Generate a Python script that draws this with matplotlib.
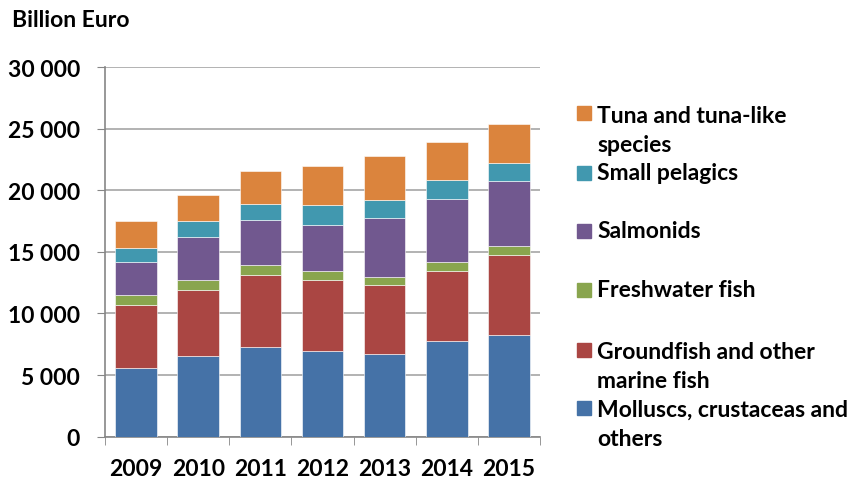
import matplotlib
matplotlib.use("Agg")
import matplotlib.pyplot as plt
from matplotlib.ticker import FuncFormatter, FixedLocator
from matplotlib.patches import Rectangle
import numpy as np

plt.rcParams["font.family"] = ["Lato", "DejaVu Sans"]
plt.rcParams["font.weight"] = "bold"

anos = ["2009", "2010", "2011", "2012", "2013", "2014", "2015"]

molluscs = [5580, 6550, 7300, 6930, 6740, 7740, 8280]
groundfish = [5090, 5380, 5820, 5810, 5550, 5730, 6490]
freshwater = [810, 810, 810, 730, 650, 710, 710]
salmonids = [2700, 3470, 3630, 3730, 4840, 5140, 5300]
small_pelagics = [1110, 1270, 1350, 1620, 1440, 1520, 1460]
tuna = [2190, 2160, 2650, 3170, 3550, 3110, 3170]

series = [
    ("Molluscs, crustaceas and\nothers", molluscs, "#4572A7"),
    ("Groundfish and other\nmarine fish", groundfish, "#AA4643"),
    ("Freshwater fish", freshwater, "#89A54E"),
    ("Salmonids", salmonids, "#71588F"),
    ("Small pelagics", small_pelagics, "#4198AF"),
    ("Tuna and tuna-like\nspecies", tuna, "#DB843D"),
]

fig = plt.figure(figsize=(8.64, 4.81), dpi=100)
ax = fig.add_axes([105 / 864, 1 - 437.7 / 481, 435 / 864, 369.7 / 481])

x = np.arange(len(anos))
base = np.zeros(len(anos))
for nome, valores, cor in series:
    ax.bar(x, valores, width=0.67, bottom=base, color=cor, edgecolor="white",
           linewidth=0.4, zorder=3)
    base = base + np.array(valores)

ax.set_xlim(-0.5, len(anos) - 0.5)
ax.set_ylim(0, 30000)
ax.set_yticks(range(0, 30001, 5000))
ax.yaxis.set_major_formatter(FuncFormatter(lambda v, p: f"{int(v):,}".replace(",", " ")))
ax.set_xticks(x)
ax.set_xticklabels(anos)
ax.xaxis.set_minor_locator(FixedLocator(np.arange(-0.5, len(anos), 1)))
ax.tick_params(axis="x", which="major", length=0, labelsize=16.5, pad=15)
ax.tick_params(axis="x", which="minor", length=6, color="#868686")
ax.tick_params(axis="y", length=6, color="#868686", labelsize=16.5, pad=12)
ax.grid(axis="y", color="#A6A6A6", linewidth=1.2, zorder=0)

for lado in ["top", "right"]:
    ax.spines[lado].set_visible(False)
for lado in ["left", "bottom"]:
    ax.spines[lado].set_color("#868686")
    ax.spines[lado].set_linewidth(1.2)

fig.text(12 / 864, 1 - 27 / 481, "Billion Euro", fontsize=16.5, fontweight="bold",
         va="baseline", ha="left")

# legenda manual (entradas de cima para baixo), linha de base da 1a linha
y_base = [120.7, 180, 238.5, 297.5, 357, 415]
passo = 31
for (nome, valores, cor), yy in zip(series[::-1], y_base):
    n_linhas = nome.count("\n") + 1
    fig.patches.append(Rectangle((577 / 864, 1 - (yy + 0.5) / 481), 14 / 864, 14 / 481,
                                 transform=fig.transFigure, color=cor))
    # va="baseline" em texto de varias linhas usa a ultima linha
    fig.text(597 / 864, 1 - (yy + passo * (n_linhas - 1)) / 481, nome, fontsize=16.5,
             fontweight="bold", va="baseline", ha="left", linespacing=1.48)

fig.savefig("out.png", dpi=100)
